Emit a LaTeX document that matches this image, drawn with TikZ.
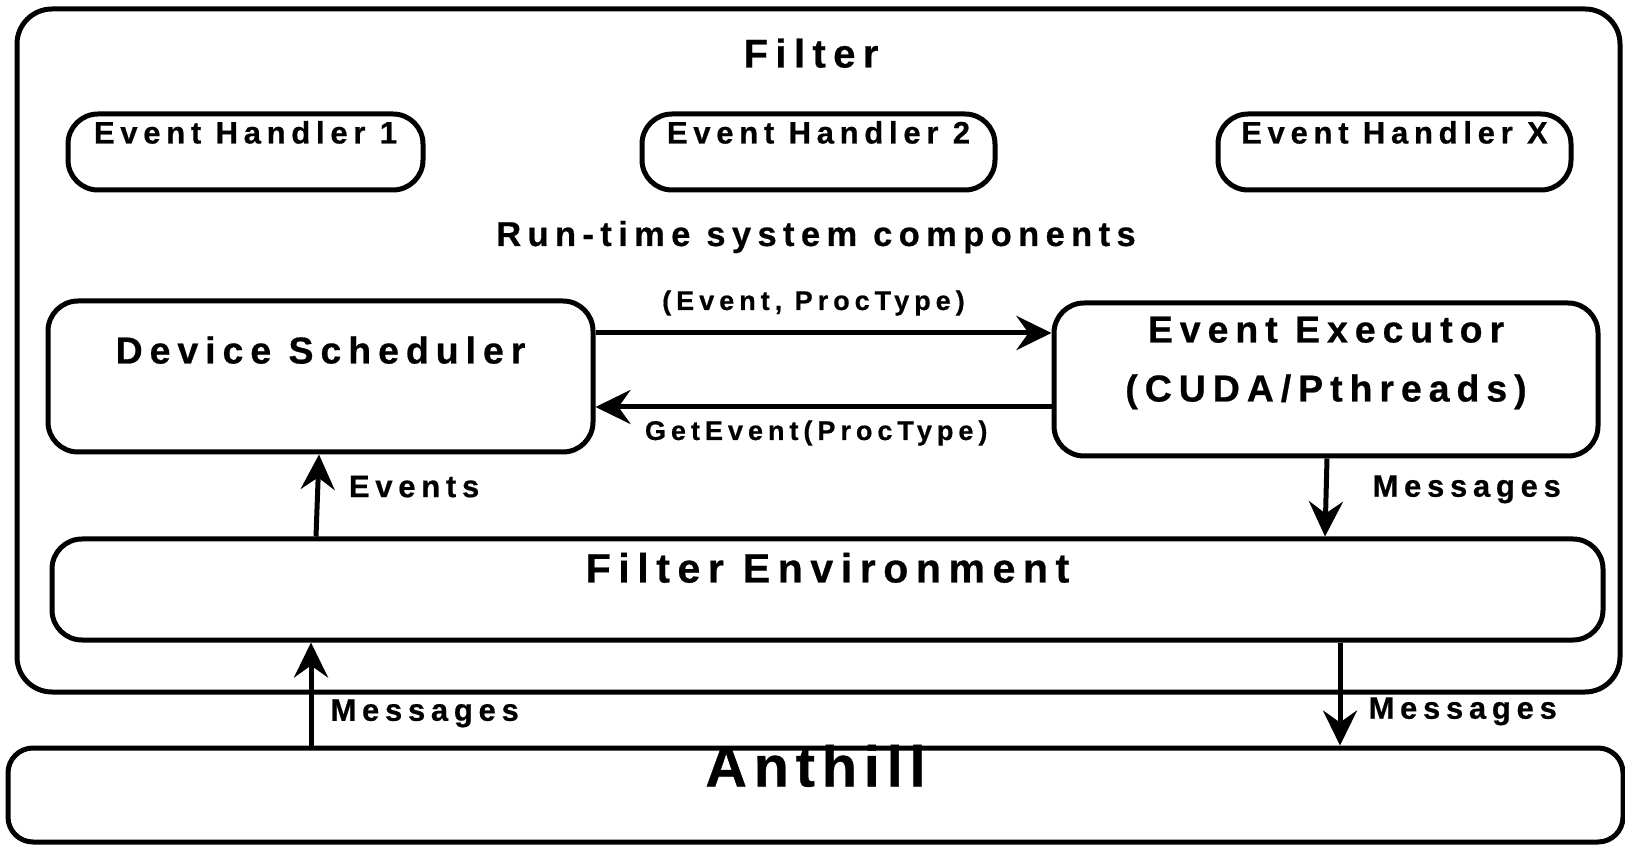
\documentclass[tikz,border=0pt]{standalone}
\usepackage{fontspec}
\newfontfamily\diagfont[LetterSpace=18.5, BoldFeatures={FakeBold=0.6}]{Liberation Sans}
\newfontfamily\titlefont[LetterSpace=12, BoldFeatures={FakeBold=0.6}]{Liberation Sans}
\usetikzlibrary{arrows.meta, positioning}

\begin{document}
\begin{tikzpicture}[
        x=1pt, y=1pt,
        box/.style={rectangle, draw, line width=5pt, rounded corners=30pt, inner sep=0pt},
        arrow/.style={-{Stealth[length=35pt, width=34pt, inset=12pt]}, line width=5pt},
        txt/.style={inner sep=0pt, anchor=base, font=\diagfont\bfseries\fontsize{#1}{59}\selectfont},
        ttl/.style={inner sep=0pt, anchor=base, font=\titlefont\bfseries\fontsize{#1}{59}\selectfont}
    ]
        \useasboundingbox (0,0) rectangle (1625,844);

        % Filter
        \node[box, rounded corners=35pt, minimum width=1603pt, minimum height=683pt] (filter) at (818.5,493.5) {};
        \node[txt=40] (filtertext) at (811,776.5) {Filter};

        % Event handlers
        \node[box, minimum width=355pt, minimum height=76pt] (eh1) at (245.5,692) {};
        \node[box, minimum width=353pt, minimum height=76pt] (eh2) at (818.5,692) {};
        \node[box, minimum width=353pt, minimum height=76pt] (ehx) at (1394.5,692) {};
        \node[txt=31] (eh1text) at ([yshift=-32pt]eh1.north) {Event Handler 1};
        \node[txt=31] (eh2text) at ([yshift=-32pt]eh2.north) {Event Handler 2};
        \node[txt=31] (ehxtext) at ([yshift=-32pt]ehx.north) {Event Handler X};

        % Run-time system
        \node[txt=34.5] (runtime) at (816,598) {Run-time system components};
        \node[box, minimum width=545pt, minimum height=151pt] (sched) at (320.5,467.5) {};
        \node[box, minimum width=544pt, minimum height=153pt] (exec) at (1326,464.5) {};
        \node[txt=37.5] (schedtext) at ([yshift=-65pt]sched.north) {Device Scheduler};
        \node[txt=37.5, align=center] (exectext) at ([yshift=-101pt]exec.north) {Event Executor\\(CUDA/Pthreads)};

        % Environment
        \node[box, minimum width=1551pt, minimum height=101pt] (env) at (827.5,254.5) {};
        \node[txt=41] (envtext) at ([yshift=-46pt]env.north) {Filter Environment};

        % Anthill
        \node[box, rounded corners=25pt, minimum width=1615pt, minimum height=94pt] (anthill) at (815.5,49) {};
        \node[ttl=57.5] (anthilltext) at ([yshift=-41pt]anthill.north) {Anthill};

        % Arrows
        \draw[arrow] ([yshift=43.5pt]sched.east) -- node[txt=27, pos=0.478, yshift=23pt] {(Event, ProcType)} ([yshift=43.5pt]sched.east -| exec.west);
        \draw[arrow] ([yshift=-30.5pt]sched.east -| exec.west) -- node[txt=27, pos=0.516, yshift=-33pt] {GetEvent(ProcType)} ([yshift=-30.5pt]sched.east);
        \draw[arrow] ([xshift=-511.5pt]env.north) -- node[txt=31, anchor=base west, pos=0.48, xshift=29pt] {Events} ([xshift=-1.5pt]sched.south);
        \draw[arrow] ([xshift=1pt]exec.south) -- node[txt=31, anchor=base west, pos=0.49, xshift=44pt] {Messages} ([xshift=497.5pt]env.north);
        \draw[arrow] ([xshift=-504.5pt]anthill.north) -- node[txt=31, anchor=base west, pos=0.24, xshift=17pt] {Messages} ([xshift=-516.5pt]env.south);
        \draw[arrow] ([xshift=512.5pt]env.south) -- node[txt=31, anchor=base west, pos=0.74, xshift=26pt] {Messages} ([xshift=524.5pt]anthill.north);
    \end{tikzpicture}
\end{document}
